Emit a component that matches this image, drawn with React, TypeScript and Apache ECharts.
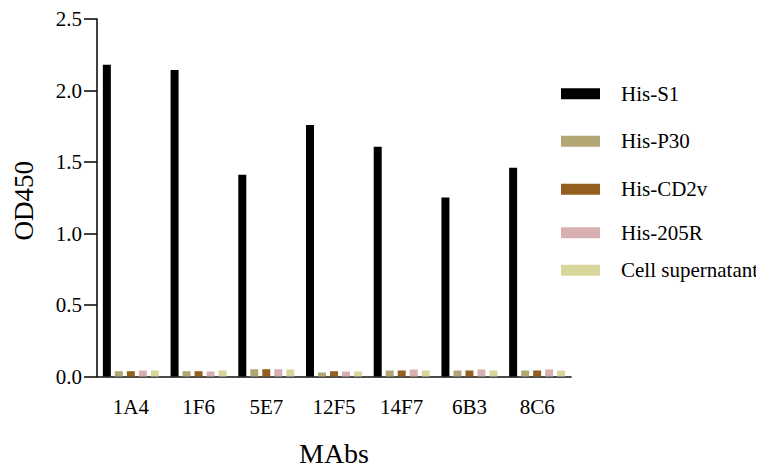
import React, { useEffect, useRef } from "react";
import * as echarts from "echarts";

const categories = ["1A4", "1F6", "5E7", "12F5", "14F7", "6B3", "8C6"];
const seriesNames = ["His-S1", "His-P30", "His-CD2v", "His-205R", "Cell supernatant"];
const hisS1 = [2.18, 2.144, 1.411, 1.758, 1.606, 1.252, 1.459];
const hisP30 = [0.037, 0.037, 0.051, 0.028, 0.042, 0.042, 0.042];
const hisCD2v = [0.037, 0.037, 0.051, 0.037, 0.042, 0.042, 0.042];
const his205R = [0.042, 0.035, 0.051, 0.035, 0.049, 0.049, 0.049];
const cellSup = [0.042, 0.042, 0.049, 0.035, 0.042, 0.042, 0.042];
const colors = ["#000000", "#b2a675", "#95601f", "#d9b0b1", "#d8d69b"];
const legendCenters = [93.7, 141.3, 189.3, 232.7, 270.3];

const FONT = "Liberation Serif";
const OFF = 8; // body margin

export default function App() {
  const ref = useRef<HTMLDivElement>(null);
  useEffect(() => {
    if (!ref.current) return;
    const chart = echarts.init(ref.current, null, { renderer: "svg" });
    const values = [hisS1, hisP30, hisCD2v, his205R, cellSup];
    chart.setOption({
      animation: false,
      textStyle: { fontFamily: FONT, color: "#000" },
      grid: {
        left: 97 - OFF,
        right: 764 - 571,
        top: 19 - OFF,
        bottom: 469 - 376.5,
        containLabel: false,
        outerBoundsMode: "none",
      },
      legend: seriesNames.map((n, i) => ({
        data: [n],
        left: 561 - OFF,
        top: legendCenters[i] - 11 - OFF,
        padding: 0,
        itemWidth: 39,
        itemHeight: 11,
        icon: "rect",
        selectedMode: false,
        textStyle: {
          fontFamily: FONT,
          fontSize: 21,
          lineHeight: 22,
          color: "#000",
          padding: [0, 0, 0, 16],
        },
      })),
      xAxis: {
        type: "category",
        data: categories,
        name: "MAbs",
        nameLocation: "middle",
        nameGap: 64,
        nameTextStyle: { fontFamily: FONT, fontSize: 28, lineHeight: 26, color: "#000" },
        axisLine: { lineStyle: { color: "#111", width: 1.6 } },
        axisTick: { alignWithLabel: true, length: 13, lineStyle: { color: "#111", width: 1.6 } },
        axisLabel: { fontFamily: FONT, fontSize: 21, color: "#000", margin: 20 },
      },
      yAxis: {
        type: "value",
        min: 0,
        max: 2.5,
        interval: 0.5,
        name: "OD450",
        nameLocation: "middle",
        nameGap: 60,
        nameTextStyle: { fontFamily: FONT, fontSize: 27, color: "#000", padding: [0, 6, 0, 0] },
        axisLine: { show: true, lineStyle: { color: "#111", width: 1.6 } },
        axisTick: { show: true, length: 13, lineStyle: { color: "#111", width: 1.6 } },
        axisLabel: {
          fontFamily: FONT,
          fontSize: 21,
          color: "#000",
          margin: 15,
          formatter: (v: number) => v.toFixed(1),
        },
        splitLine: { show: false },
      },
      series: seriesNames.map((n, i) => ({
        name: n,
        type: "bar",
        data: values[i],
        barWidth: 8,
        barGap: "50%",
        itemStyle: { color: colors[i] },
      })),
    });
    return () => chart.dispose();
  }, []);
  return <div ref={ref} style={{ width: 764 - OFF, height: 469 - OFF }} />;
}
